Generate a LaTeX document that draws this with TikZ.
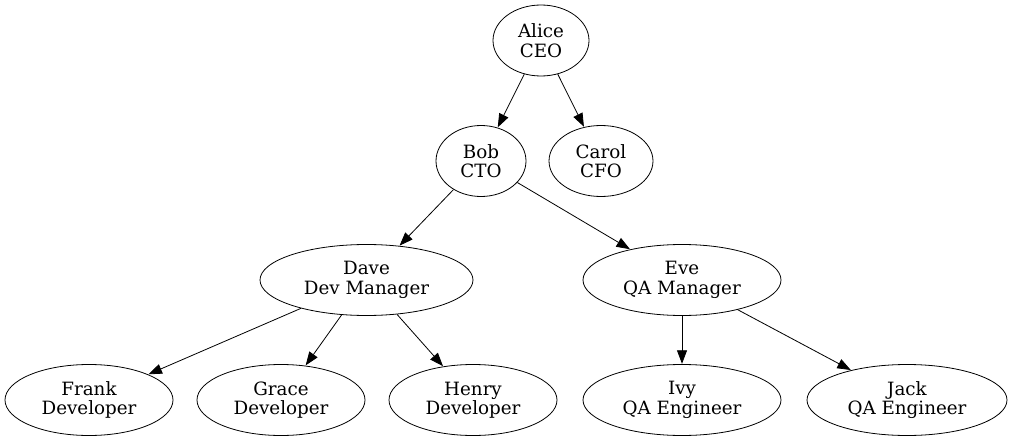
\documentclass[tikz,border=0pt]{standalone}
\usepackage{fontspec}
\setmainfont{DejaVu Serif}
\usetikzlibrary{shapes.geometric,arrows.meta}
\begin{document}
\begin{tikzpicture}[x=1pt,y=-1pt,
  person/.style={draw,ellipse,line width=0.8pt,inner sep=0pt,minimum height=71pt,align=center,
    font=\fontsize{18.3}{19.5}\selectfont},
  edge/.style={line width=0.8pt,-{Triangle[length=13.5pt,width=10pt]},shorten >=0.3pt}]
\useasboundingbox (0,0) rectangle (1014,441);
\node[person,minimum width=96pt] (alice) at (541,40.5) {Alice\\CEO};
\node[person,minimum width=90pt] (bob) at (481,161) {Bob\\CTO};
\node[person,minimum width=104pt] (carol) at (601,161) {Carol\\CFO};
\node[person,minimum width=213pt] (dave) at (366.5,280) {Dave\\Dev Manager};
\node[person,minimum width=198pt] (eve) at (682,280) {Eve\\QA Manager};
\node[person,minimum width=168pt] (frank) at (89,400) {Frank\\Developer};
\node[person,minimum width=168pt] (grace) at (281,400) {Grace\\Developer};
\node[person,minimum width=168pt] (henry) at (473,400) {Henry\\Developer};
\node[person,minimum width=198pt] (ivy) at (682,400) {Ivy\\QA Engineer};
\node[person,minimum width=200pt] (jack) at (907,400) {Jack\\QA Engineer};
\draw[edge] (alice) -- (bob);
\draw[edge] (alice) -- (carol);
\draw[edge] (bob) -- (dave);
\draw[edge] (bob) -- (eve);
\draw[edge] (dave) -- (frank);
\draw[edge] (dave) -- (grace);
\draw[edge] (dave) -- (henry);
\draw[edge] (eve) -- (ivy);
\draw[edge] (eve) -- (jack);
\end{tikzpicture}
\end{document}
